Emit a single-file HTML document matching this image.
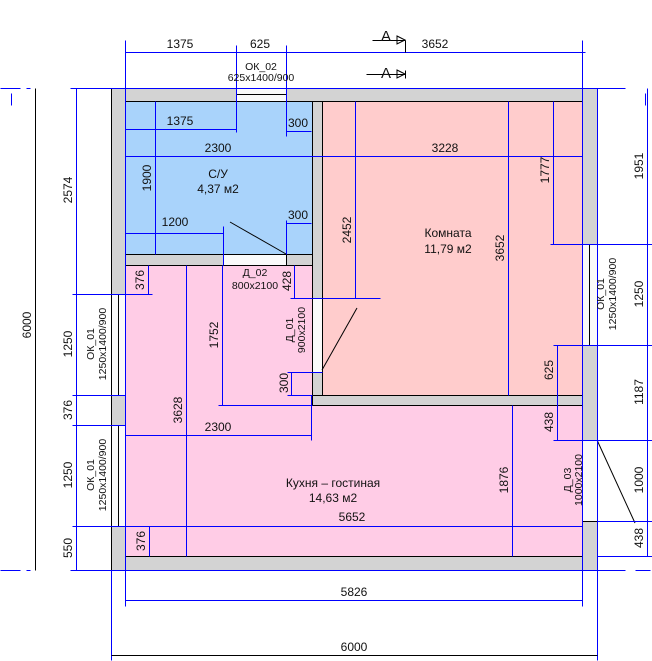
<!DOCTYPE html>
<html><head><meta charset="utf-8"><style>
html,body{margin:0;padding:0;background:#fff}
svg{display:block}
text{font-family:"Liberation Sans Narrow","Liberation Sans",sans-serif;font-size:12px;fill:#111;text-anchor:middle}
.s{font-size:10.5px}
.b{stroke:#0000ff;stroke-width:1;fill:none;shape-rendering:crispEdges}
.k{stroke:#000;stroke-width:1;fill:none}
</style></head><body>
<svg width="652" height="661" viewBox="0 0 652 661" xmlns="http://www.w3.org/2000/svg">
<rect x="125" y="101" width="187" height="153" fill="#a9d3fb"/>
<rect x="322" y="101" width="260" height="294" fill="#ffcccc"/>
<path d="M125 265H312V405H582V556H125Z" fill="#ffcce6"/>
<g fill="#d3d3d3" stroke="#000" stroke-width="1" shape-rendering="crispEdges">
<path d="M111.5 88.5H597.5V570.5H111.5Z M125.5 101.5V556.5H582.5V101.5Z" fill-rule="evenodd"/>
<rect x="125.5" y="254.5" width="187" height="11"/>
<rect x="312.5" y="101.5" width="10" height="294"/>
<rect x="312.5" y="395.5" width="270" height="10"/>
</g>
<g fill="#fafafa" stroke="#000" stroke-width="1" shape-rendering="crispEdges">
<rect x="236.5" y="88.5" width="50" height="13"/><line x1="236" y1="94.5" x2="286" y2="94.5"/>
<rect x="223.5" y="254.5" width="63" height="11"/>
<rect x="312.5" y="298.5" width="10" height="74"/>
<rect x="111.5" y="294.5" width="14" height="101"/><line x1="118.5" y1="294" x2="118.5" y2="395"/>
<rect x="111.5" y="425.5" width="14" height="101"/><line x1="118.5" y1="425" x2="118.5" y2="526"/>
<rect x="582.5" y="244.5" width="15" height="101"/><line x1="589.5" y1="244" x2="589.5" y2="345"/>
<rect x="582.5" y="440.5" width="15" height="81"/>
</g>
<g class="k">
<line x1="230" y1="222" x2="286" y2="254"/>
<line x1="357" y1="308" x2="322" y2="370"/>
<line x1="597" y1="440" x2="635" y2="523"/>
</g>
<g class="b" transform="translate(0.5,0.5)">
<line x1="0" y1="88" x2="20" y2="88"/><line x1="26" y1="88" x2="30" y2="88"/><line x1="70" y1="88" x2="625" y2="88"/>
<line x1="0" y1="570" x2="20" y2="570"/><line x1="26" y1="570" x2="30" y2="570"/><line x1="70" y1="570" x2="625" y2="570"/><line x1="635" y1="570" x2="650" y2="570"/>
<line x1="125" y1="40" x2="125" y2="606"/><line x1="582" y1="40" x2="582" y2="606"/>
<line x1="111" y1="570" x2="111" y2="660"/><line x1="597" y1="570" x2="597" y2="660"/>
<line x1="597" y1="88" x2="597" y2="580"/>
<line x1="11" y1="93" x2="11" y2="105"/><line x1="645" y1="93" x2="645" y2="105"/>
<line x1="125" y1="52" x2="585" y2="52"/>
<line x1="236" y1="45" x2="236" y2="132"/><line x1="286" y1="45" x2="286" y2="136"/>
<line x1="76" y1="88" x2="76" y2="570"/>
<line x1="72" y1="294" x2="125" y2="294"/><line x1="72" y1="395" x2="125" y2="395"/>
<line x1="72" y1="425" x2="125" y2="425"/><line x1="72" y1="526" x2="582" y2="526"/>
<line x1="647" y1="88" x2="647" y2="556"/>
<line x1="550" y1="244" x2="652" y2="244"/><line x1="553" y1="345" x2="652" y2="345"/>
<line x1="553" y1="440" x2="652" y2="440"/><line x1="597" y1="521" x2="652" y2="521"/>
<line x1="597" y1="556" x2="652" y2="556"/>
<line x1="125" y1="600" x2="582" y2="600"/>
<line x1="125" y1="129" x2="236" y2="129"/>
<line x1="286" y1="131" x2="311" y2="131"/>
<line x1="125" y1="156" x2="582" y2="156"/>
<line x1="155" y1="101" x2="155" y2="254"/>
<line x1="125" y1="233" x2="223" y2="233"/><line x1="223" y1="226" x2="223" y2="265"/>
<line x1="286" y1="220" x2="286" y2="254"/><line x1="286" y1="223" x2="311" y2="223"/>
<line x1="355" y1="101" x2="355" y2="298"/><line x1="290" y1="298" x2="380" y2="298"/>
<line x1="508" y1="101" x2="508" y2="395"/>
<line x1="553" y1="101" x2="553" y2="244"/>
<line x1="557" y1="345" x2="557" y2="440"/>
<line x1="148" y1="265" x2="148" y2="294"/><line x1="125" y1="294" x2="152" y2="294"/>
<line x1="186" y1="265" x2="186" y2="556"/>
<line x1="222" y1="265" x2="222" y2="405"/><line x1="218" y1="405" x2="312" y2="405"/>
<line x1="294" y1="265" x2="294" y2="298"/>
<line x1="291" y1="372" x2="291" y2="395"/><line x1="287" y1="372" x2="322" y2="372"/><line x1="287" y1="395" x2="312" y2="395"/>
<line x1="125" y1="435" x2="311" y2="435"/><line x1="311" y1="395" x2="311" y2="440"/>
<line x1="149" y1="526" x2="149" y2="556"/>
<line x1="512" y1="405" x2="512" y2="556"/>
</g>
<g class="k" transform="translate(0.5,0.5)" shape-rendering="crispEdges">
<line x1="35" y1="88" x2="35" y2="570"/>
<line x1="111" y1="655" x2="597" y2="655"/>
<line x1="372" y1="40" x2="405" y2="40"/><line x1="405" y1="40" x2="405" y2="52"/>
<line x1="366" y1="74" x2="405" y2="74"/><line x1="405" y1="70" x2="405" y2="78"/>
</g>
<g class="k"><path d="M397 36L405 40L397 44Z"/><path d="M397 70L405 74L397 78Z"/></g>
<text x="386" y="41" style="font-size:15px">A</text>
<text x="386" y="78" style="font-size:15px">A</text>
<text x="180" y="48">1375</text><text x="260" y="48">625</text><text x="435" y="48">3652</text>
<text x="261" y="70" class="s">ОК_02</text><text x="261" y="81" class="s">625x1400/900</text>
<text x="180" y="125">1375</text><text x="298" y="127">300</text>
<text x="218" y="152">2300</text><text x="445" y="152">3228</text>
<text x="218" y="178">С/У</text><text x="218" y="193">4,37 м2</text>
<text x="175" y="226">1200</text><text x="298" y="219">300</text>
<text x="448" y="237">Комната</text><text x="448" y="253">11,79 м2</text>
<text x="255" y="276" class="s">Д_02</text><text x="255" y="289" class="s">800x2100</text>
<text x="218" y="431">2300</text>
<text x="333" y="487">Кухня – гостиная</text><text x="333" y="502">14,63 м2</text>
<text x="352" y="521">5652</text>
<text x="354" y="596">5826</text><text x="354" y="651">6000</text>
<g>
<text transform="translate(31,325) rotate(-90)">6000</text>
<text transform="translate(72,190) rotate(-90)">2574</text>
<text transform="translate(72,344) rotate(-90)">1250</text>
<text transform="translate(72,410) rotate(-90)">376</text>
<text transform="translate(72,475) rotate(-90)">1250</text>
<text transform="translate(72,548) rotate(-90)">550</text>
<text class="s" transform="translate(94,344) rotate(-90)">ОК_01</text><text class="s" transform="translate(106,344) rotate(-90)">1250x1400/900</text>
<text class="s" transform="translate(94,475) rotate(-90)">ОК_01</text><text class="s" transform="translate(106,475) rotate(-90)">1250x1400/900</text>
<text transform="translate(643,166) rotate(-90)">1951</text>
<text transform="translate(643,294) rotate(-90)">1250</text>
<text transform="translate(643,392) rotate(-90)">1187</text>
<text transform="translate(643,480) rotate(-90)">1000</text>
<text transform="translate(643,538) rotate(-90)">438</text>
<text class="s" transform="translate(604,294) rotate(-90)">ОК_01</text><text class="s" transform="translate(616,294) rotate(-90)">1250x1400/900</text>
<text transform="translate(151,178) rotate(-90)">1900</text>
<text transform="translate(351,230) rotate(-90)">2452</text>
<text transform="translate(504,248) rotate(-90)">3652</text>
<text transform="translate(549,170) rotate(-90)">1777</text>
<text transform="translate(553,370) rotate(-90)">625</text>
<text transform="translate(144,280) rotate(-90)">376</text>
<text transform="translate(182,410) rotate(-90)">3628</text>
<text transform="translate(218,335) rotate(-90)">1752</text>
<text transform="translate(291,281) rotate(-90)">428</text>
<text class="s" transform="translate(293,330) rotate(-90)">Д_01</text><text class="s" transform="translate(305,330) rotate(-90)">900x2100</text>
<text transform="translate(288,383) rotate(-90)">300</text>
<text transform="translate(145,541) rotate(-90)">376</text>
<text transform="translate(508,480) rotate(-90)">1876</text>
<text transform="translate(553,422) rotate(-90)">438</text>
<text class="s" transform="translate(571,480) rotate(-90)">Д_03</text><text class="s" transform="translate(582,480) rotate(-90)">1000x2100</text>
</g>
</svg>
</body></html>
